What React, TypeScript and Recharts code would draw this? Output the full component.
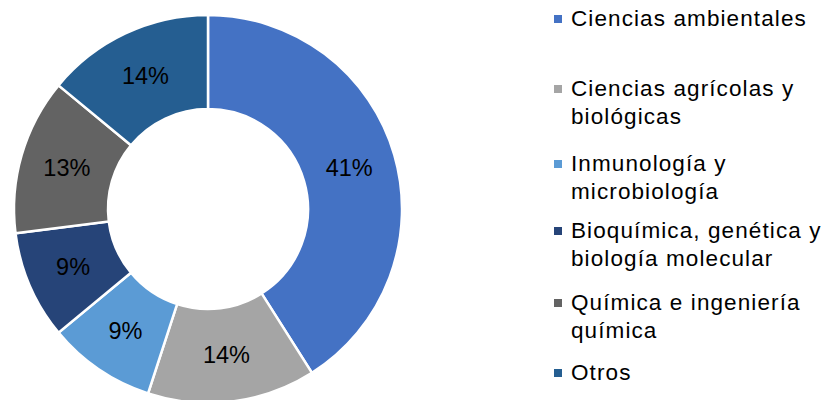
import { Cell, Legend, Pie, PieChart } from "recharts";

const categories = [
  "Ciencias ambientales",
  "Ciencias agrícolas y biológicas",
  "Inmunología y microbiología",
  "Bioquímica, genética y biología molecular",
  "Química e ingeniería química",
  "Otros",
];
const shares = [41, 14, 9, 9, 13, 14];
const colors = ["#4472C4", "#A5A5A5", "#5B9BD5", "#264478", "#636363", "#255E91"];
// first-line centre of each legend entry, px from top
const legendTops = [18.5, 89, 164, 231, 303, 373];

const data = categories.map((name, i) => ({ name, value: shares[i] }));
const FONT = "'Liberation Sans', Arial, sans-serif";
const RAD = Math.PI / 180;

function renderLabel(props: any) {
  const { cx, cy, midAngle, innerRadius, outerRadius, value } = props;
  const r = (innerRadius + outerRadius) / 2;
  const x = cx + r * Math.cos(-midAngle * RAD);
  const y = cy + r * Math.sin(-midAngle * RAD);
  return (
    <text x={x} y={y} fill="#000" fontSize={23.5} fontFamily={FONT} textAnchor="middle" dominantBaseline="central">
      {value}%
    </text>
  );
}

function LegendList() {
  return (
    <div style={{ position: "absolute", left: 0, top: 0 }}>
      {categories.map((name, i) => (
        <div
          key={name}
          style={{
            position: "absolute",
            left: 554,
            top: legendTops[i] - 14,
            width: 270,
            display: "flex",
            alignItems: "flex-start",
            fontFamily: FONT,
            fontSize: 22.5,
            lineHeight: "28px",
            letterSpacing: 1.1,
            color: "#000",
          }}
        >
          <span style={{ width: 8, height: 8, background: colors[i], marginTop: 10, marginRight: 9, flex: "none" }} />
          <span style={{ width: 256 }}>{name}</span>
        </div>
      ))}
    </div>
  );
}

export default function App() {
  return (
    <div style={{ position: "absolute", left: 0, top: 0, width: 825, height: 400, background: "#fff", overflow: "hidden" }}>
      <PieChart width={825} height={400} margin={{ top: 0, right: 0, bottom: 0, left: 0 }}>
        <Pie
          data={data}
          dataKey="value"
          cx={208}
          cy={209}
          innerRadius={100}
          outerRadius={194}
          startAngle={90}
          endAngle={-270}
          stroke="#fff"
          strokeWidth={2.5}
          label={renderLabel}
          labelLine={false}
          isAnimationActive={false}
        >
          {data.map((d, i) => (
            <Cell key={d.name} fill={colors[i]} />
          ))}
        </Pie>
        <Legend content={() => <LegendList />} wrapperStyle={{ position: "absolute", left: 0, top: 0, width: 825, height: 400 }} />
      </PieChart>
    </div>
  );
}
